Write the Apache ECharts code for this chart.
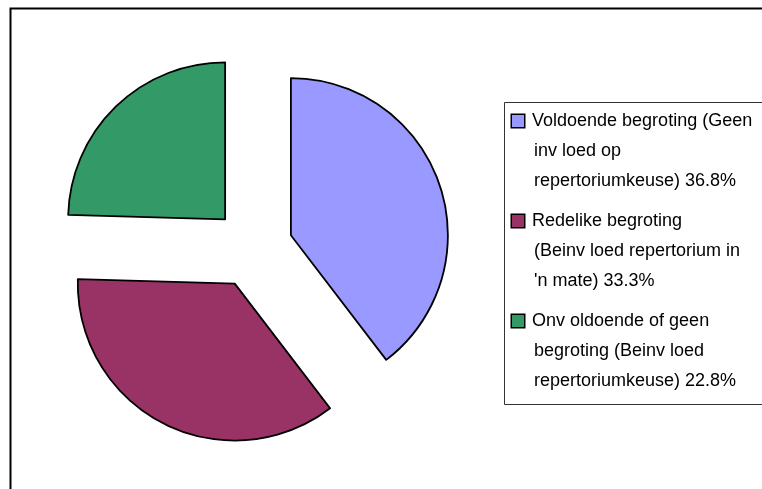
<!DOCTYPE html>
<html>
<head>
<meta charset="utf-8">
<script src="https://cdn.jsdelivr.net/npm/echarts@6/dist/echarts.min.js"></script>
<style>
  html, body { margin: 0; padding: 0; background: #fff; }
  #chart { width: 762px; height: 489px; }
</style>
</head>
<body>
<div id="chart"></div>
<script>
// categories (legend lines already broken like the original)
var categories = [
  'Voldoende begroting (Geen\ninv loed op\nrepertoriumkeuse)',
  'Redelike begroting\n(Beinv loed repertorium in\n\'n mate)',
  'Onv oldoende of geen\nbegroting (Beinv loed\nrepertoriumkeuse)'
]
var values = [36.8, 33.3, 22.8]
var colors = ['#9999FF', '#993366', '#339966']

var FONT = '"Liberation Sans", Arial, sans-serif'

var chart = echarts.init(document.getElementById('chart'))

// rich styles for the legend: small coloured box + text
var rich = {
  t: { fontFamily: FONT, fontSize: 18, lineHeight: 30, color: '#000' },
  sp: { width: 22, height: 14 },
  sp2: { width: 8 }
}
colors.forEach(function (c, i) {
  rich['b' + i] = {
    width: 12, height: 12, backgroundColor: c,
    borderColor: '#000', borderWidth: 1.5
  }
})

option = {
  animation: false,
  backgroundColor: '#fff',
  graphic: [
    // outer chart frame
    { type: 'rect', left: 8, top: 6, shape: { width: 800, height: 600 },
      style: { fill: 'none', stroke: '#000', lineWidth: 2 }, z: 0 },
    // legend frame
    { type: 'rect', left: 502, top: 100, shape: { width: 259, height: 302 },
      style: { fill: 'none', stroke: '#333', lineWidth: 1 }, z: 0 }
  ],
  legend: {
    orient: 'vertical',
    left: 507,
    top: 112,
    padding: 0,
    itemGap: 22,
    itemWidth: 0,
    icon: 'none',
    selectedMode: false,
    formatter: function (name) {
      var i = categories.indexOf(name)
      var lines = name.split('\n')
      lines[lines.length - 1] += ' ' + values[i].toFixed(1) + '%'
      return lines.map(function (l, k) {
        return (k === 0 ? '{b' + i + '|}{sp2|}' : '{sp|}') + '{t|' + l + '}'
      }).join('\n')
    },
    textStyle: { rich: rich },
    data: categories
  },
  series: [{
    type: 'pie',
    center: [253, 248],
    radius: 157,
    startAngle: 90,
    clockwise: true,
    selectedMode: 'multiple',
    selectedOffset: 40,
    label: { show: false },
    labelLine: { show: false },
    emphasis: { disabled: true },
    itemStyle: { borderColor: '#000', borderWidth: 1.8 },
    select: { itemStyle: { borderColor: '#000', borderWidth: 1.8 } },
    data: categories.map(function (n, i) {
      return { name: n, value: values[i], selected: true, itemStyle: { color: colors[i] } }
    })
  }]
}
chart.setOption(option)
</script>
</body>
</html>
